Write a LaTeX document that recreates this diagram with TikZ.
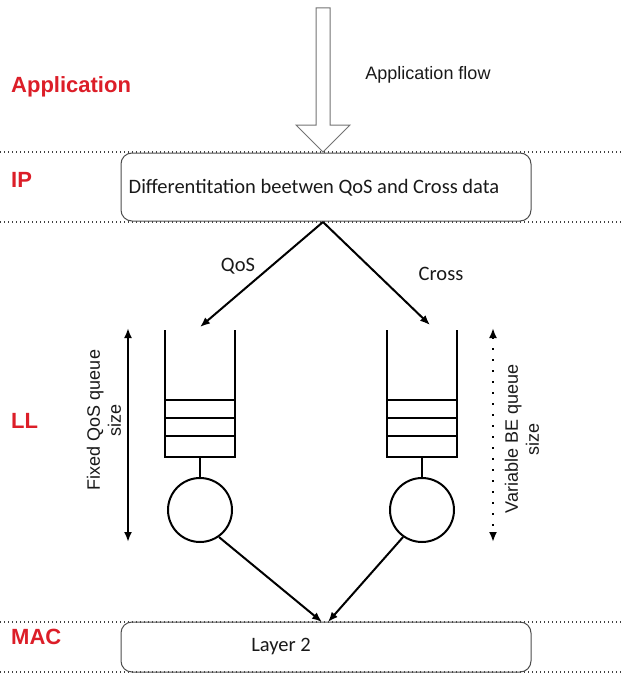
\documentclass[tikz,border=0pt]{standalone}
\usepackage{fontspec}
\setmainfont{Liberation Sans}
\newfontfamily\boxfont{Carlito}
\usetikzlibrary{arrows.meta}
\definecolor{layerred}{RGB}{220,30,40}
\begin{document}
\begin{tikzpicture}[x={(1pt,0pt)},y={(0pt,-1pt)},
  layerlbl/.style={text=layerred,font=\fontsize{22}{26}\selectfont\bfseries,anchor=west,inner sep=0},
  sep/.style={line width=1.4pt,dash pattern=on 1.4pt off 2.6pt,draw=black!75},
  layerbox/.style={draw=black!70,line width=1pt,rounded corners=11pt,inner sep=0},
  boxtext/.style={font=\boxfont\fontsize{20.5}{24}\selectfont,text=black!90},
  clbl/.style={font=\boxfont\fontsize{20.5}{24}\selectfont,text=black!90},
  lbl/.style={font=\fontsize{18}{21}\selectfont,text=black!90},
  flow/.style={line width=2pt,-{Latex[length=10pt,width=8pt]}},
  qline/.style={line width=2pt},
  server/.style={draw,circle,line width=2pt,minimum size=64pt,inner sep=0},
  rotlbl/.style={rotate=90,align=center,font=\fontsize{18}{21}\selectfont,text=black!90},
  bidir/.style={line width=2pt,{Latex[length=10pt,width=8pt]}-{Latex[length=10pt,width=8pt]}}
]
\useasboundingbox (0,0) rectangle (623,677);
% layer separators
\foreach \yy in {152,222,622,672} \draw[sep] (0,\yy) -- (623,\yy);
% layer labels
\node[layerlbl] (lapp) at (11,87) {Application};
\node[layerlbl] (lip) at (11,180) {IP};
\node[layerlbl] (lll) at (11,421) {LL};
\node[layerlbl] (lmac) at (11,637) {MAC};
% boxes
\node[layerbox,minimum width=410pt,minimum height=68pt] (ip) at (326,187) {};
\node[boxtext] (iptext) at (314,188) {Differentitation beetwen QoS and Cross data};
\node[layerbox,minimum width=410pt,minimum height=50pt] (mac) at (326,647) {};
\node[boxtext] (mactext) at (281,646) {Layer 2};
% application flow hollow arrow
\coordinate (tip) at (323,152);
\draw[draw=black!55,line width=1pt,fill=white]
  (316,8) -- (330,8) -- (330,125) -- (350,125) -- (tip) -- (296,125) -- (316,125) -- cycle;
\node[lbl] (aflow) at (428,75) {Application flow};
% queues
\foreach \n/\cx in {1/200,2/422}{
  \draw[qline] (\cx-35,330) -- (\cx-35,457) -- (\cx+35,457) -- (\cx+35,330);
  \foreach \yy in {400,418,436} \draw[qline] (\cx-35,\yy) -- (\cx+35,\yy);
  \coordinate (qt\n) at (\cx,327);
  \coordinate (qb\n) at (\cx,457);
  \node[server] (s\n) at (\cx,510) {};
  \draw[qline] (qb\n) -- (s\n.north);
}
% split arrows
\coordinate (split) at (323,222);
\coordinate (qt2b) at (430,325);
\draw[flow] (split) -- (qt1);
\draw[flow] (split) -- (qt2b);
\node[clbl] (qos) at (238,266) {QoS};
\node[clbl] (cross) at (441,274) {Cross};
% merge arrows
\coordinate (m1) at (322,622);
\coordinate (m2) at (328,622);
\draw[flow] (s1.-55) -- (m1);
\draw[flow] (s2.-125) -- (m2);
% size indicators
\coordinate (la) at (128,328); \coordinate (lb) at (128,542);
\draw[bidir] (la) -- (lb);
\node[rotlbl] (fixed) at (104,420) {Fixed QoS queue\\size};
\coordinate (ra) at (493,328); \coordinate (rb) at (493,542);
\draw[bidir,dash pattern=on 2pt off 9pt] (ra) -- (rb);
\node[rotlbl] (variable) at (522,439) {Variable BE queue\\size};
\end{tikzpicture}
\end{document}
